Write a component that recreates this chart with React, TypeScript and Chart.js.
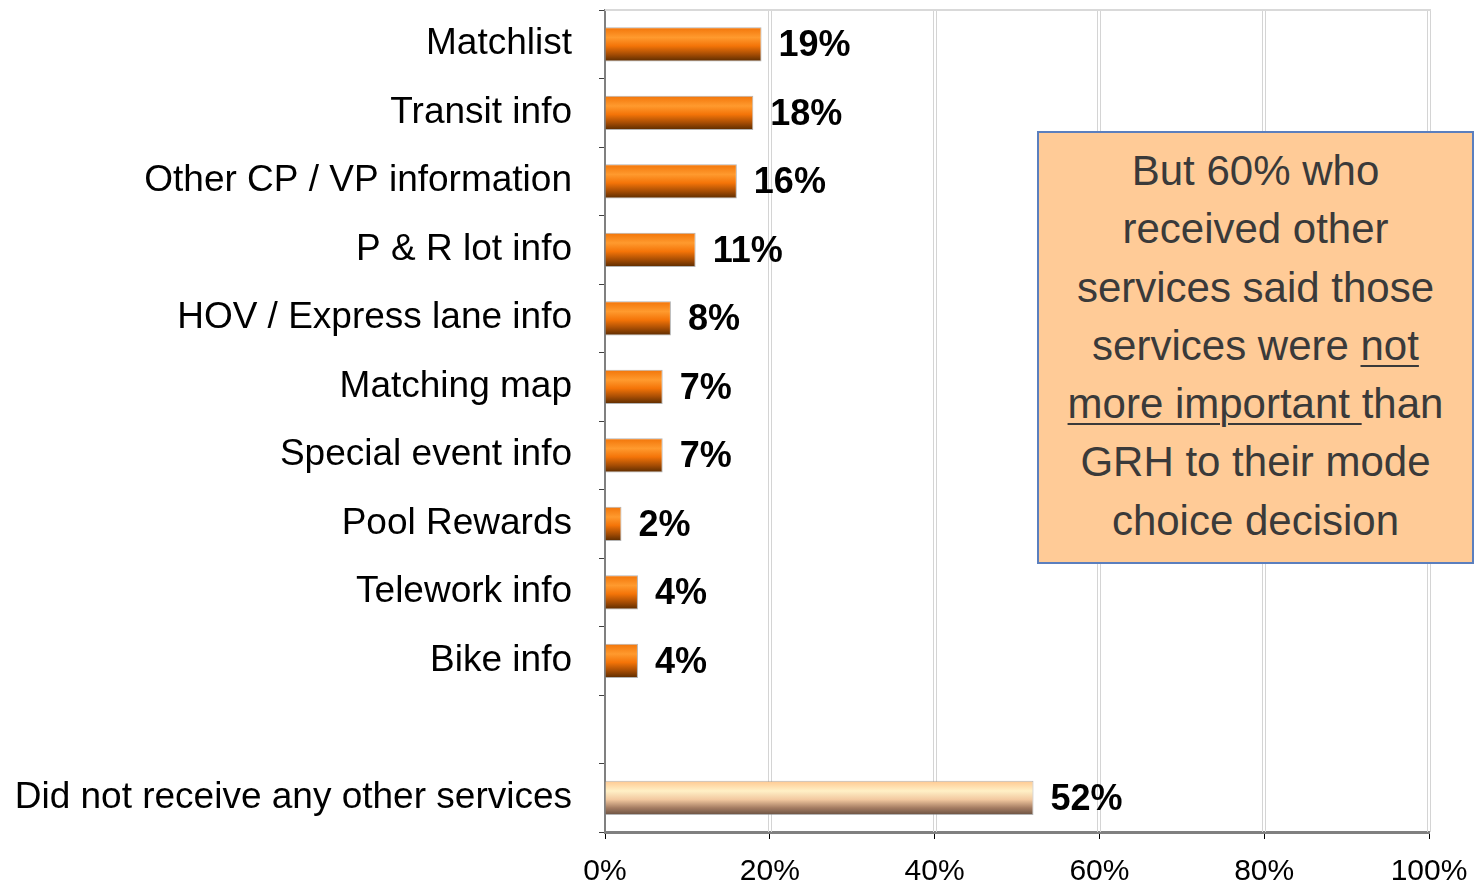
import React, { useEffect, useRef } from "react";
import { Chart, registerables } from "chart.js";

Chart.register(...registerables);

const categories = [
  "Matchlist",
  "Transit info",
  "Other CP / VP information",
  "P & R lot info",
  "HOV / Express lane info",
  "Matching map",
  "Special event info",
  "Pool Rewards",
  "Telework info",
  "Bike info",
  "",
  "Did not receive any other services",
];
const values: (number | null)[] = [19, 18, 16, 11, 8, 7, 7, 2, 4, 4, null, 52];
const xTicks = [0, 20, 40, 60, 80, 100];
const noteLines: { text: string; underline?: boolean }[][] = [
  [{ text: "But 60% who" }],
  [{ text: "received other" }],
  [{ text: "services said those" }],
  [{ text: "services were " }, { text: "not", underline: true }],
  [{ text: "more important ", underline: true }, { text: "than" }],
  [{ text: "GRH to their mode" }],
  [{ text: "choice decision" }],
];

const FONT = '"Liberation Sans", Arial, Helvetica, sans-serif';

export default function App() {
  const ref = useRef<HTMLCanvasElement | null>(null);

  useEffect(() => {
    document.body.style.margin = "0";
    const canvas = ref.current;
    if (!canvas) return;
    Chart.defaults.font.family = FONT;

    const barGradient = (context: any) => {
      const chart = context.chart;
      const ys = chart.scales && chart.scales.y;
      const special = context.dataIndex === values.length - 1;
      const fallback = special ? "#ffcc99" : "#ff8000";
      if (!ys || context.type !== "data") return fallback;
      const cy = ys.getPixelForValue(context.dataIndex);
      if (!Number.isFinite(cy)) return fallback;
      const half = 17;
      const g = chart.ctx.createLinearGradient(0, cy - half, 0, cy + half);
      if (special) {
        g.addColorStop(0, "#ffc890");
        g.addColorStop(0.3, "#fff0c6");
        g.addColorStop(0.55, "#f2c9a0");
        g.addColorStop(0.8, "#a47c62");
        g.addColorStop(1, "#6a5242");
      } else {
        g.addColorStop(0, "#f27408");
        g.addColorStop(0.3, "#ff9a2e");
        g.addColorStop(0.55, "#f47408");
        g.addColorStop(0.8, "#a44c04");
        g.addColorStop(1, "#5c2c00");
      }
      return g;
    };

    const decor = {
      id: "decor",
      beforeDatasetsDraw(chart: any) {
        const { ctx, chartArea } = chart;
        const xs = chart.scales.x;
        ctx.save();
        ctx.strokeStyle = "#d4d4d4";
        ctx.lineWidth = 1;
        xTicks.forEach((t) => {
          if (t === 0) return;
          const px = Math.round(xs.getPixelForValue(t));
          [px - 1.5, px + 1.5].forEach((x) => {
            ctx.beginPath();
            ctx.moveTo(x, chartArea.top);
            ctx.lineTo(x, chartArea.bottom);
            ctx.stroke();
          });
        });
        ctx.strokeStyle = "#d9d9d9";
        ctx.lineWidth = 2;
        ctx.beginPath();
        ctx.moveTo(chartArea.left, chartArea.top);
        ctx.lineTo(chartArea.right + 2, chartArea.top);
        ctx.stroke();
        ctx.restore();
      },
      afterDatasetsDraw(chart: any) {
        const { ctx } = chart;
        const meta = chart.getDatasetMeta(0);
        ctx.save();
        ctx.font = `bold 36px ${FONT}`;
        ctx.fillStyle = "#000";
        ctx.textBaseline = "middle";
        ctx.textAlign = "left";
        meta.data.forEach((el: any, i: number) => {
          const v = values[i];
          if (v == null) return;
          ctx.fillText(`${v}%`, el.x + 17, el.y + 2);
        });
        ctx.restore();
      },
    };

    const chart = new Chart(canvas, {
      type: "bar",
      data: {
        labels: categories,
        datasets: [
          {
            data: values as any,
            backgroundColor: barGradient as any,
            borderColor: "rgba(130,130,130,0.6)",
            borderWidth: 1,
            barPercentage: 0.5,
            categoryPercentage: 1,
          },
        ],
      },
      options: {
        indexAxis: "y",
        animation: false,
        responsive: true,
        maintainAspectRatio: false,
        layout: { padding: { top: 10, right: 52, left: 0, bottom: 0 } },
        plugins: { legend: { display: false }, tooltip: { enabled: false } },
        scales: {
          x: {
            type: "linear",
            min: 0,
            max: 100,
            afterFit: (s: any) => {
              s.height = 50;
              s.paddingLeft = 0;
              s.paddingRight = 0;
            },
            afterBuildTicks: (s: any) => {
              s.ticks = xTicks.map((v) => ({ value: v }));
            },
            ticks: {
              callback: (v: any) => `${v}%`,
              color: "#000",
              font: { size: 30 },
              padding: 15,
              maxRotation: 0,
            },
            grid: {
              drawOnChartArea: false,
              drawTicks: true,
              tickLength: 7,
              tickColor: "#000",
            },
            border: { display: true, color: "#808080", width: 3 },
          },
          y: {
            type: "category",
            afterFit: (s: any) => {
              s.width = 605;
              s.paddingTop = 0;
              s.paddingBottom = 0;
            },
            ticks: {
              color: "#000",
              font: { size: 37 },
              padding: 27,
            },
            grid: {
              offset: true,
              drawOnChartArea: false,
              drawTicks: true,
              tickLength: 6,
              tickColor: "#404040",
            },
            border: { display: true, color: "#808080", width: 2 },
          },
        },
      },
      plugins: [decor],
    });
    chart.update();
    return () => chart.destroy();
  }, []);

  return (
    <div style={{ position: "fixed", left: 0, top: 0, width: 1481, height: 882, background: "#fff" }}>
      <canvas ref={ref} />
      <div
        style={{
          position: "absolute",
          left: 1037,
          top: 131,
          width: 437,
          height: 433,
          boxSizing: "border-box",
          border: "2px solid #5b7fbe",
          background: "#ffcb97",
          color: "#3a3a3a",
          fontFamily: FONT,
          fontSize: 42,
          lineHeight: "58.3px",
          textAlign: "center",
          paddingTop: 9,
          whiteSpace: "nowrap",
        }}
      >
        {noteLines.map((line, i) => (
          <div key={i}>
            {line.map((p, j) => (
              <span
                key={j}
                style={p.underline ? { textDecoration: "underline", textUnderlineOffset: 5, textDecorationThickness: 2 } : undefined}
              >
                {p.text}
              </span>
            ))}
          </div>
        ))}
      </div>
    </div>
  );
}
